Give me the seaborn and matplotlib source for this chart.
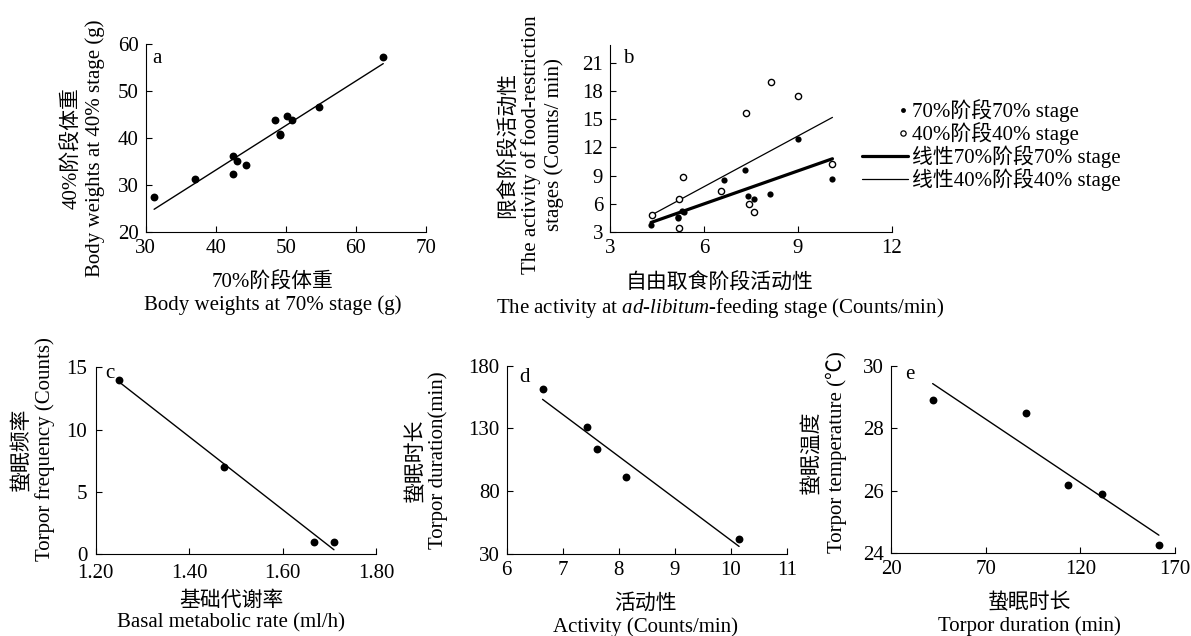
import matplotlib
matplotlib.use("Agg")
import numpy as np
import matplotlib.pyplot as plt
import seaborn as sns
from matplotlib.lines import Line2D
from matplotlib.legend_handler import HandlerLine2D

# ---- data -------------------------------------------------------------
# a: body weight at 70% vs 40% restriction stage
a_bw70 = [31.2, 37.1, 42.5, 42.5, 43.0, 44.3, 48.4, 49.2, 49.2, 50.2, 50.9, 54.7, 63.9]
a_bw40 = [27.3, 31.2, 36.2, 32.3, 35.0, 34.2, 43.8, 40.9, 40.6, 44.7, 43.8, 46.6, 57.2]

# b: ad-libitum activity vs food-restriction activity
b_adlib70 = [4.31, 5.18, 5.18, 5.30, 5.36, 6.64, 7.31, 7.39, 7.60, 8.11, 8.99, 10.10]
b_act70 = [3.7, 4.6, 4.5, 5.2, 5.1, 8.5, 9.6, 6.8, 6.5, 7.0, 12.9, 8.6]
b_adlib40 = [4.33, 5.21, 5.32, 5.20, 6.53, 7.33, 7.44, 7.61, 8.13, 9.01, 10.10]
b_act40 = [4.8, 6.5, 8.8, 3.4, 7.4, 15.7, 6.0, 5.1, 19.0, 17.5, 10.2]

# c: basal metabolic rate vs torpor frequency
c_bmr = [1.25, 1.475, 1.667, 1.71]
c_freq = [14, 7, 1, 1]

# d: activity vs torpor duration
d_act = [6.64, 7.43, 7.62, 8.13, 10.15]
d_dur = [161.5, 131.5, 113.5, 91.5, 42.0]

# e: torpor duration vs torpor temperature
e_dur = [42.0, 91.5, 113.5, 131.5, 161.5]
e_temp = [28.9, 28.5, 26.2, 25.9, 24.25]

legend_labels = ["70%阶段70% stage", "40%阶段40% stage",
                 "线性70%阶段70% stage", "线性40%阶段40% stage"]

# ---- style ------------------------------------------------------------
sns.set_theme(style="ticks", rc={
    "axes.edgecolor": "black", "axes.linewidth": 0.8,
    "xtick.direction": "in", "ytick.direction": "in",
    "xtick.major.size": 4, "ytick.major.size": 4,
    "xtick.major.width": 0.8, "ytick.major.width": 0.8,
    "xtick.color": "black", "ytick.color": "black",
    "text.color": "black", "axes.labelcolor": "black",
})
plt.rcParams["font.family"] = ["Liberation Serif", "Noto Sans CJK SC"]
plt.rcParams["mathtext.fontset"] = "custom"
plt.rcParams["mathtext.rm"] = "Liberation Serif"
plt.rcParams["mathtext.it"] = "Liberation Serif:italic"

FS = 15
W, H = 1191, 636
fig = plt.figure(figsize=(W / 100, H / 100), dpi=100)


def px_axes(l, r, t, b):
    return fig.add_axes([l / W, (H - b) / H, (r - l) / W, (b - t) / H])


def style(ax, letter, lpos, xlab, xpos, ylab, ypos, xls=1.2):
    sns.despine(ax=ax)
    ax.tick_params(labelsize=FS, pad=5)
    ax.text(*lpos, letter, transform=ax.transAxes, fontsize=FS,
            ha="center", va="center")
    ax.set_xlabel(xlab, fontsize=FS, va="center", ha="center", linespacing=xls)
    ax.xaxis.set_label_coords(*xpos)
    ax.set_ylabel(ylab, fontsize=FS, va="center", ha="center", linespacing=1.2)
    ax.yaxis.set_label_coords(*ypos)


def scatter_fit(ax, x, y, s=30, lw=1.0):
    sns.regplot(x=x, y=y, ax=ax, ci=None, scatter=False, color="black",
                line_kws={"lw": lw})
    sns.scatterplot(x=x, y=y, ax=ax, color="black", s=s, linewidth=0, zorder=3)


# ---- panel a ----------------------------------------------------------
ax_a = px_axes(145.7, 426, 44.3, 231.7)
scatter_fit(ax_a, a_bw70, a_bw40, s=32)
ax_a.set_xlim(30, 70)
ax_a.set_ylim(20, 60)
ax_a.set_xticks([30, 40, 50, 60, 70])
ax_a.set_yticks([20, 30, 40, 50, 60])
style(ax_a, "a", (0.039, 0.925),
      "70%阶段体重\nBody weights at 70% stage (g)", (0.454, -0.332),
      "40%阶段体重\nBody weights at 40% stage (g)", (-0.222, 0.447))

# ---- panel b ----------------------------------------------------------
ax_b = px_axes(610, 892, 45, 232)
sns.regplot(x=b_adlib70, y=b_act70, ax=ax_b, ci=None, scatter=False,
            color="black", line_kws={"lw": 2.3})
sns.regplot(x=b_adlib40, y=b_act40, ax=ax_b, ci=None, scatter=False,
            color="black", line_kws={"lw": 0.9})
sns.scatterplot(x=b_adlib70, y=b_act70, ax=ax_b, color="black", s=20,
                linewidth=0, zorder=3)
sns.scatterplot(x=b_adlib40, y=b_act40, ax=ax_b, s=20, facecolor="white",
                edgecolor="black", linewidth=1.0, zorder=3)
ax_b.set_xlim(3, 12)
ax_b.set_ylim(3, 22.9)
ax_b.set_xticks([3, 6, 9, 12])
ax_b.set_yticks([3, 6, 9, 12, 15, 18, 21])
style(ax_b, "b", (0.064, 0.93),
      "自由取食阶段活动性\nThe activity at $\\mathit{ad}$-$\\mathit{libitum}$-feeding stage (Counts/min)",
      (0.39, -0.345),
      "限食阶段活动性\nThe activity of food-restriction\nstages (Counts/ min)",
      (-0.28, 0.465), xls=1.1)


class RightMarker(HandlerLine2D):
    """Place the single legend marker near the right end of the handle."""

    def get_xdata(self, legend, xdescent, ydescent, width, height, fontsize):
        x0 = -xdescent
        xdata = np.array([x0 + width * 0.8, x0 + width])
        return xdata, xdata


handles = [
    Line2D([], [], ls="none", marker="o", color="black", ms=3.5, mew=0),
    Line2D([], [], ls="none", marker="o", mfc="white", mec="black", ms=3.8, mew=0.9),
    Line2D([], [], color="black", lw=2.3),
    Line2D([], [], color="black", lw=0.9),
]
ax_b.legend(handles, legend_labels, loc="center left",
            bbox_to_anchor=(0.893, 0.465), frameon=False, fontsize=FS,
            handlelength=2.2, handletextpad=0.2, labelspacing=0.0,
            borderpad=0, borderaxespad=0,
            handler_map={h: RightMarker() for h in handles[:2]})

# ---- panel c ----------------------------------------------------------
ax_c = px_axes(95.7, 376, 367.3, 554)
scatter_fit(ax_c, c_bmr, c_freq, s=32)
ax_c.set_xlim(1.2, 1.8)
ax_c.set_ylim(0, 15)
ax_c.set_xticks([1.2, 1.4, 1.6, 1.8])
ax_c.set_xticklabels(["1.20", "1.40", "1.60", "1.80"])
ax_c.set_yticks([0, 5, 10, 15])
style(ax_c, "c", (0.051, 0.969),
      "基础代谢率\nBasal metabolic rate (ml/h)", (0.483, -0.31),
      "蛰眠频率\nTorpor frequency (Counts)", (-0.222, 0.56))
ax_c.tick_params(axis="x", pad=7)
ax_c.tick_params(axis="y", pad=6)

# ---- panel d ----------------------------------------------------------
ax_d = px_axes(506.7, 786.7, 365.7, 554)
scatter_fit(ax_d, d_act, d_dur, s=32)
ax_d.set_xlim(6, 11)
ax_d.set_ylim(30, 180)
ax_d.set_xticks([6, 7, 8, 9, 10, 11])
ax_d.set_yticks([30, 80, 130, 180])
style(ax_d, "d", (0.062, 0.937),
      "活动性\nActivity (Counts/min)", (0.494, -0.326),
      "蛰眠时长\nTorpor duration(min)", (-0.285, 0.499))

# ---- panel e ----------------------------------------------------------
ax_e = px_axes(891, 1175, 365.7, 553.3)
scatter_fit(ax_e, e_dur, e_temp, s=32)
ax_e.set_xlim(20, 170)
ax_e.set_ylim(24, 30)
ax_e.set_xticks([20, 70, 120, 170])
ax_e.set_yticks([24, 26, 28, 30])
style(ax_e, "e", (0.067, 0.954),
      "蛰眠时长\nTorpor duration (min)", (0.489, -0.326),
      "蛰眠温度\nTorpor temperature (℃)", (-0.234, 0.54))

fig.savefig("out.png", dpi=100)
